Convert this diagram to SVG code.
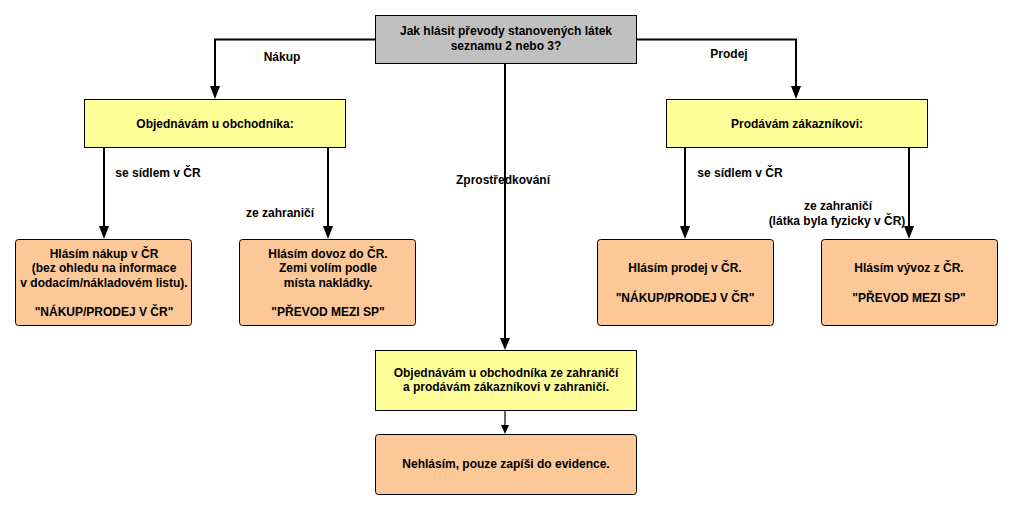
<svg xmlns="http://www.w3.org/2000/svg" width="1013" height="510" viewBox="0 0 1013 510">
<style>
text{font-family:"Liberation Sans",Arial,sans-serif;font-size:12px;font-weight:bold;fill:#000;text-anchor:middle}
.gray{fill:#c0c0c0;stroke:#000;stroke-width:1}
.yel{fill:#ffff99;stroke:#000;stroke-width:1}
.peach{fill:#fcc898;stroke:#000;stroke-width:1}
.c{fill:none;stroke:#000;stroke-width:2}
.c1{fill:none;stroke:#000;stroke-width:1.2}
.ah{fill:#000}
</style>
<rect width="1013" height="510" fill="#fff"/>
<g id="labels">
<text x="282" y="61">Nákup</text>
<text x="729" y="58">Prodej</text>
<text x="158" y="177">se sídlem v ČR</text>
<text x="280" y="217">ze zahraničí</text>
<text x="503" y="184">Zprostředkování</text>
<text x="740" y="177">se sídlem v ČR</text>
<text x="838" y="210">ze zahraničí</text>
<text x="837" y="225">(látka byla fyzicky v ČR)</text>
</g>
<g id="connectors">
<path class="c" d="M375.5,39.5 H215 V87"/>
<path class="c" d="M636.5,39.5 H796 V87"/>
<path class="c" d="M505,63 V340"/>
<path class="c" d="M104,147 V228"/>
<path class="c" d="M328,147 V228"/>
<path class="c" d="M685,147 V228"/>
<path class="c" d="M909,147 V228"/>
<path class="c1" d="M505,411 V426"/>
<path class="ah" d="M210,86 L220,86 L215,99 Z"/>
<path class="ah" d="M791,86 L801,86 L796,99 Z"/>
<path class="ah" d="M500,338 L510,338 L505,350 Z"/>
<path class="ah" d="M99,226 L109,226 L104,239 Z"/>
<path class="ah" d="M323,226 L333,226 L328,239 Z"/>
<path class="ah" d="M680,226 L690,226 L685,239 Z"/>
<path class="ah" d="M904,226 L914,226 L909,239 Z"/>
<path class="ah" d="M501,425 L509,425 L505,434 Z"/>
</g>
<g id="start">
<rect class="gray" x="375.5" y="15.5" width="261" height="48"/>
<text x="506" y="35">Jak hlásit převody stanovených látek</text>
<text x="506" y="50">seznamu 2 nebo 3?</text>
</g>
<g id="buy">
<rect class="yel" x="84.5" y="99.5" width="261" height="48"/>
<text x="215" y="128">Objednávám u obchodníka:</text>
</g>
<g id="sell">
<rect class="yel" x="666.5" y="99.5" width="261" height="48"/>
<text x="797" y="128">Prodávám zákazníkovi:</text>
</g>
<g id="buy-cz">
<rect class="peach" x="15.5" y="239.5" width="176" height="86" rx="3"/>
<text x="104" y="258">Hlásím nákup v ČR</text>
<text x="104" y="272">(bez ohledu na informace</text>
<text x="104" y="287">v dodacím/nákladovém listu).</text>
<text x="104" y="316">"NÁKUP/PRODEJ V ČR"</text>
</g>
<g id="buy-foreign">
<rect class="peach" x="239.5" y="239.5" width="176" height="86" rx="3"/>
<text x="328" y="258">Hlásím dovoz do ČR.</text>
<text x="328" y="272">Zemi volím podle</text>
<text x="328" y="287">místa nakládky.</text>
<text x="328" y="316">"PŘEVOD MEZI SP"</text>
</g>
<g id="sell-cz">
<rect class="peach" x="597.5" y="239.5" width="176" height="86" rx="3"/>
<text x="685" y="272">Hlásím prodej v ČR.</text>
<text x="685" y="302">"NÁKUP/PRODEJ V ČR"</text>
</g>
<g id="sell-foreign">
<rect class="peach" x="821.5" y="239.5" width="176" height="86" rx="3"/>
<text x="909" y="272">Hlásím vývoz z ČR.</text>
<text x="909" y="302">"PŘEVOD MEZI SP"</text>
</g>
<g id="broker">
<rect class="yel" x="375.5" y="350.5" width="261" height="60"/>
<text x="506" y="377">Objednávám u obchodníka ze zahraničí</text>
<text x="506" y="391">a prodávám zákazníkovi v zahraničí.</text>
</g>
<g id="no-report">
<rect class="peach" x="375.5" y="434.5" width="261" height="60" rx="3"/>
<text x="506" y="468">Nehlásím, pouze zapíši do evidence.</text>
</g>
</svg>
